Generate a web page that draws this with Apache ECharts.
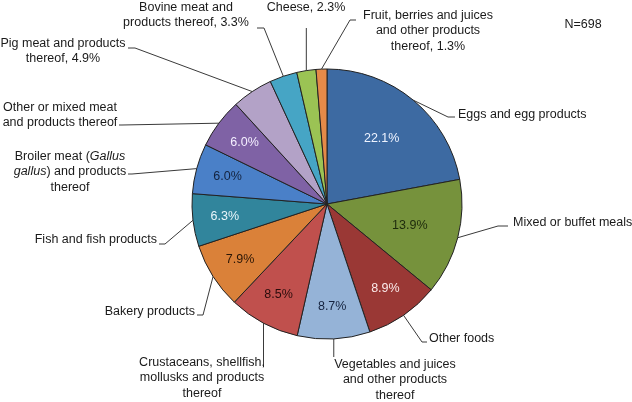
<!DOCTYPE html>
<html><head><meta charset="utf-8">
<script src="https://cdn.jsdelivr.net/npm/echarts@6/dist/echarts.min.js"></script>
<style>html,body{margin:0;padding:0;background:#fff}#c{width:632px;height:402px}</style>
</head><body><div id="c"></div>
<script>
// ---- data ----
const categories = [
  'Eggs and egg products',
  'Mixed or buffet meals',
  'Other foods',
  'Vegetables and juices\nand other products\nthereof',
  'Crustaceans, shellfish,\nmollusks and products\nthereof',
  'Bakery products',
  'Fish and fish products',
  'Broiler meat (Gallus\ngallus) and products\nthereof',
  'Other or mixed meat\nand products thereof',
  'Pig meat and products\nthereof',
  'Bovine meat and\nproducts thereof',
  'Cheese',
  'Fruit, berries and juices\nand other products\nthereof'
];
const shares = [22.1, 13.9, 8.9, 8.7, 8.5, 7.9, 6.3, 6.0, 6.0, 4.9, 3.3, 2.3, 1.3];
const sampleNote = 'N=698';
const percentInside = [true, true, true, true, true, true, true, true, true, false, false, false, false];
const percentOutside = [false, false, false, false, false, false, false, false, false, true, true, true, true];

// ---- styles ----
const sliceColors = ['#3D6AA2', '#76923C', '#9A3835', '#95B3D7', '#C0504D', '#DA8139', '#31859C',
  '#4A80C8', '#7F62A5', '#B3A2C7', '#46A5C5', '#9BC354', '#E58A48'];
const insideTextColors = ['#eef3ff', '#1d2a0c', '#fbeaea', '#15233f', '#2a0c0c', '#2a1606', '#eaf6fa',
  '#14233f', '#f4efff', '#000', '#000', '#000', '#000'];
const nearRing = [true, true, false, false, false, false, false, false, false, false, false, false, false];
// label placement: anchor, alignment, bend/end of leader
const labelPlacement = [
  {x: 458, y: 115, align: 'left',   bend: [448, 117], end: [455, 117]},
  {x: 513, y: 223, align: 'left',   bend: [498, 226], end: [508, 226]},
  {x: 429, y: 339, align: 'left',   bend: [422, 342], end: [427, 342]},
  {x: 395, y: 380, align: 'center', vert: 357},
  {x: 202, y: 378, align: 'center', vert: 367},
  {x: 195, y: 312, align: 'right',  bend: [203, 315], end: [197, 315]},
  {x: 157, y: 240, align: 'right',  bend: [165, 244], end: [159, 244]},
  {x: 70,  y: 172, align: 'center', bend: [132, 174], end: [128, 174]},
  {x: 60,  y: 115, align: 'center', bend: [122, 125], end: [119, 125]},
  {x: 63,  y: 51,  align: 'center', bend: [135, 48],  end: [128, 48]},
  {x: 186, y: 15,  align: 'center', bend: [264, 28],  end: [257, 28]},
  {x: 306, y: 8,   align: 'center', vert: 28},
  {x: 428, y: 31,  align: 'center', bend: [350, 20],  end: [356, 20]}
];

const FONT = "'Liberation Sans', Arial, sans-serif";
const FS = 12.5;
const CENTER = [327, 204];
const R = 135;

const chart = echarts.init(document.getElementById('c'), null, {renderer: 'canvas'});

const baseData = categories.map((c, i) => ({
  name: c, value: shares[i], itemStyle: {color: sliceColors[i]}
}));

function ringData(useNear) {
  return categories.map((c, i) => ({
    name: c, value: shares[i],
    label: {show: percentInside[i] && nearRing[i] === useNear, color: insideTextColors[i]}
  }));
}

const ringCommon = {
  type: 'pie', center: CENTER, startAngle: 90, clockwise: true, silent: true,
  avoidLabelOverlap: false, animation: false,
  itemStyle: {color: 'rgba(0,0,0,0)', borderWidth: 0},
  label: {position: 'inside', fontFamily: FONT, fontSize: FS,
    formatter: p => p.value.toFixed(1) + '%'},
  labelLine: {show: false},
  emphasis: {disabled: true}
};

chart.setOption({
  backgroundColor: '#fff',
  animation: false,
  graphic: [{
    type: 'text', x: 583, y: 25,
    style: {text: sampleNote, font: FS + 'px ' + FONT, fill: '#1a1a1a', textAlign: 'center', textVerticalAlign: 'middle'}
  }],
  series: [
    {
      type: 'pie', center: CENTER, radius: R, startAngle: 90, clockwise: true,
      avoidLabelOverlap: false, animation: false,
      data: baseData,
      itemStyle: {borderColor: '#222', borderWidth: 1},
      emphasis: {disabled: true},
      label: {
        show: true, position: 'outside', alignTo: 'none',
        fontFamily: FONT, fontSize: FS, lineHeight: 15.5, color: '#1a1a1a',
        formatter: p => {
          let t = p.name.replace('(Gallus', '({i|Gallus}').replace('\ngallus)', '\n{i|gallus})');
          if (percentOutside[p.dataIndex]) t += ', ' + p.value.toFixed(1) + '%';
          return t;
        },
        rich: {i: {fontStyle: 'italic', fontFamily: FONT, fontSize: FS, lineHeight: 15.5, color: '#1a1a1a'}}
      },
      labelLine: {show: true, length: 10, length2: 10, lineStyle: {color: '#3a3a3a', width: 1}},
      labelLayout: function (params) {
        const pl = labelPlacement[params.dataIndex];
        const start = params.labelLinePoints ? params.labelLinePoints[0] : null;
        const out = {x: pl.x, y: pl.y, align: pl.align, verticalAlign: 'middle'};
        if (start) {
          if (pl.vert != null) {
            out.labelLinePoints = [start, [start[0], pl.vert], [start[0], pl.vert]];
          } else {
            out.labelLinePoints = [start, pl.bend, pl.end];
          }
        }
        return out;
      }
    },
    Object.assign({}, ringCommon, {radius: [30, R], data: ringData(true)}),
    Object.assign({}, ringCommon, {radius: [65, R], data: ringData(false)})
  ]
});
</script>
</body></html>
